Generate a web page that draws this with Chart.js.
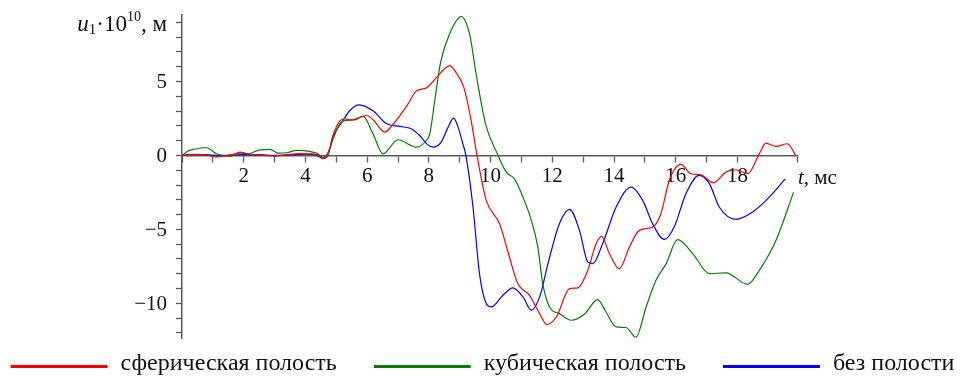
<!DOCTYPE html>
<html>
<head>
<meta charset="utf-8">
<title>u1(t)</title>
<script src="https://cdn.jsdelivr.net/npm/chart.js@4"></script>
<style>
  html, body { margin: 0; padding: 0; background: #fff; }
  canvas { display: block; }
</style>
</head>
<body>
<canvas id="chart" width="961" height="376"></canvas>
<script>
// Series names
const seriesLabels = ['сферическая полость', 'кубическая полость', 'без полости'];

// Spherical cavity: time (ms) and displacement (x1e-10 m)
const tSpherical = [0, 0.4, 0.8, 1.1, 1.5, 1.9, 2.3, 2.7, 3.0, 3.4, 3.8, 4.2, 4.4, 4.57, 4.72, 4.9, 5.1, 5.27, 5.45, 5.6, 5.98, 6.2, 6.57, 6.8, 7.06, 7.3, 7.59, 7.92, 8.24, 8.5, 8.67, 8.85, 9.13, 9.37, 9.56, 9.86, 10.29, 10.61, 10.88, 11.26, 11.59, 11.82, 12.13, 12.56, 12.83, 13.15, 13.42, 13.6, 13.85, 14.17, 14.5, 14.82, 15.25, 15.52, 15.79, 16.17, 16.49, 16.82, 17.22, 17.63, 17.95, 18.33, 18.71, 18.92, 19.25, 19.62, 19.89];
const uSpherical = [0, 0.05, 0.02, -0.1, 0.0, 0.15, 0.05, 0.0, -0.05, 0.05, 0.12, 0.1, 0.05, -0.18, 0.0, 1.4, 2.3, 2.48, 2.4, 2.45, 2.7, 2.4, 1.58, 2.0, 2.7, 3.4, 4.35, 4.57, 5.25, 5.85, 6.08, 5.7, 4.62, 2.36, 0.0, -3.04, -4.62, -6.87, -8.67, -9.46, -10.7, -11.44, -10.93, -9.01, -8.96, -7.77, -5.97, -5.47, -6.64, -7.66, -6.19, -5.07, -4.84, -3.94, -1.69, -0.61, -1.24, -1.31, -1.85, -1.13, -0.97, -1.24, 0.11, 0.83, 0.61, 0.79, 0.0];

// Cubic cavity
const tCubic = [0, 0.2, 0.4, 0.8, 1.12, 1.55, 1.88, 2.15, 2.52, 2.85, 3.12, 3.39, 3.71, 4.14, 4.41, 4.57, 4.74, 4.9, 5.1, 5.22, 5.6, 5.87, 6.19, 6.51, 7.0, 7.59, 7.92, 8.03, 8.19, 8.38, 8.67, 9.05, 9.32, 9.54, 9.84, 10.2, 10.51, 10.78, 11.05, 11.32, 11.53, 11.69, 11.91, 12.23, 12.61, 13.04, 13.47, 13.74, 14.07, 14.39, 14.71, 15.04, 15.36, 15.69, 16.06, 16.55, 17.09, 17.63, 18.33, 18.71, 19.25, 19.82];
const uCubic = [0, 0.3, 0.42, 0.52, 0.11, -0.07, 0.23, 0.11, 0.38, 0.41, 0.16, 0.18, 0.34, 0.27, 0.11, -0.14, 0.23, 1.13, 2.1, 2.32, 2.41, 2.64, 1.46, 0.11, 1.06, 0.56, 1.01, 1.46, 3.7, 6.3, 8.22, 9.39, 8.2, 5.4, 2.1, 0.2, -1.13, -1.6, -2.82, -4.39, -6.19, -8.67, -10.25, -10.7, -11.15, -10.74, -9.75, -10.59, -11.6, -11.64, -12.3, -10.25, -8.45, -7.32, -5.7, -6.64, -7.99, -7.95, -8.72, -7.77, -5.74, -2.48];

// No cavity
const tNone = [0, 0.4, 0.8, 1.2, 1.6, 2.0, 2.5, 3.0, 3.5, 4.0, 4.3, 4.57, 4.72, 4.9, 5.22, 5.44, 5.74, 6.2, 6.62, 7.06, 7.43, 7.7, 7.95, 8.13, 8.4, 8.62, 8.8, 8.95, 9.1, 9.2, 9.43, 9.64, 9.86, 10.02, 10.4, 10.72, 11.05, 11.32, 11.59, 11.86, 12.23, 12.56, 12.88, 13.15, 13.31, 13.63, 14.07, 14.55, 14.93, 15.25, 15.63, 15.95, 16.33, 16.76, 17.09, 17.41, 17.95, 18.49, 19.03, 19.55];
const uNone = [0, 0.08, 0.05, 0.0, 0.02, 0.06, 0.05, 0.0, 0.04, 0.08, 0.06, -0.2, 0.0, 1.3, 2.36, 3.04, 3.42, 3.0, 2.16, 1.96, 1.8, 1.35, 0.75, 0.56, 0.9, 1.9, 2.52, 1.9, 0.8, 0.0, -3.49, -7.99, -10.02, -10.25, -9.46, -8.96, -9.57, -10.47, -9.57, -7.32, -4.62, -3.65, -5.07, -7.21, -7.32, -5.97, -3.49, -2.14, -3.04, -4.62, -5.68, -4.84, -2.59, -1.35, -1.91, -3.49, -4.32, -3.83, -2.82, -1.58];

// Labelled ticks
const xTickLabels = [2, 4, 6, 8, 10, 12, 14, 16, 18];
const yTickLabels = [-10, -5, 0, 5];

const seriesColors = ['#ff0000', '#008000', '#0000ff'];
const AXIS_COLOR = '#5a5a5a';
const TEXT_COLOR = '#111';
const SERIF = '"Liberation Serif", "Times New Roman", serif';

const toPoints = (ts, us) => ts.map((t, i) => ({ x: t, y: us[i] }));
const fmtNum = v => (v < 0 ? '\u2212' + Math.abs(v) : String(v));

// Value labels left of the vertical axis, plus both axis titles
const axisText = {
  id: 'axisText',
  afterDraw(chart) {
    const ctx = chart.ctx;
    const xs = chart.scales.x, ys = chart.scales.y;
    const x0 = xs.getPixelForValue(0);
    const y0 = ys.getPixelForValue(0);
    ctx.save();
    ctx.fillStyle = TEXT_COLOR;

    ctx.font = '21px ' + SERIF;
    ctx.textAlign = 'right';
    ctx.textBaseline = 'middle';
    yTickLabels.forEach(v => ctx.fillText(fmtNum(v), x0 - 15, ys.getPixelForValue(v) + 1));

    ctx.textAlign = 'left';
    ctx.textBaseline = 'alphabetic';
    const parts = [
      { s: 'u', f: 'italic 23px ' + SERIF, dy: 0 },
      { s: '1', f: '15px ' + SERIF, dy: 3 },
      { s: '\u00b710', f: '23px ' + SERIF, dy: 0 },
      { s: '10', f: '14px ' + SERIF, dy: -10 },
      { s: ', м', f: '23px ' + SERIF, dy: 0 }
    ];
    let total = 0;
    parts.forEach(p => { ctx.font = p.f; p.w = ctx.measureText(p.s).width; total += p.w; });
    let x = x0 - 15 - total;
    const base = ys.top + 16;
    parts.forEach(p => { ctx.font = p.f; ctx.fillText(p.s, x, base + p.dy); x += p.w; });

    // time axis title at the right end of the x axis
    let tx = xs.right + 1;
    const tb = y0 + 29;
    ctx.font = 'italic 21px ' + SERIF;
    ctx.fillText('t', tx, tb);
    tx += ctx.measureText('t').width;
    ctx.font = '21px ' + SERIF;
    ctx.fillText(', мс', tx, tb);
    ctx.restore();
  }
};

// Legend row under the plot: long line sample followed by the series name
const lineLegend = {
  id: 'lineLegend',
  afterDraw(chart) {
    const ctx = chart.ctx;
    const sample = 97, gapText = 13, gapItem = 37;
    ctx.save();
    ctx.font = '24px ' + SERIF;
    const items = chart.data.datasets.map(ds => ({ label: ds.label, color: ds.borderColor, w: ctx.measureText(ds.label).width }));
    const total = items.reduce((s, it) => s + sample + gapText + it.w, 0) + gapItem * (items.length - 1);
    let x = (chart.width - total) / 2 + 2;
    const y = 366.5;
    items.forEach(it => {
      ctx.strokeStyle = it.color;
      ctx.lineWidth = 3;
      ctx.beginPath();
      ctx.moveTo(x, y);
      ctx.lineTo(x + sample, y);
      ctx.stroke();
      x += sample + gapText;
      ctx.fillStyle = TEXT_COLOR;
      ctx.textBaseline = 'middle';
      ctx.fillText(it.label, x, y - 3);
      x += it.w + gapItem;
    });
    ctx.restore();
  }
};

new Chart(document.getElementById('chart'), {
  type: 'line',
  data: {
    datasets: [
      { label: seriesLabels[0], data: toPoints(tSpherical, uSpherical), borderColor: seriesColors[0] },
      { label: seriesLabels[1], data: toPoints(tCubic, uCubic), borderColor: seriesColors[1] },
      { label: seriesLabels[2], data: toPoints(tNone, uNone), borderColor: seriesColors[2] }
    ]
  },
  options: {
    responsive: false,
    animation: false,
    devicePixelRatio: 1,
    layout: { padding: { left: 182, right: 164, top: 15, bottom: 38 } },
    elements: {
      point: { radius: 0 },
      line: { borderWidth: 1.2, cubicInterpolationMode: 'monotone', fill: false }
    },
    plugins: { legend: { display: false }, tooltip: { enabled: false } },
    scales: {
      x: {
        type: 'linear',
        position: { y: 0 },
        min: 0,
        max: 19.93,
        border: { display: true, color: AXIS_COLOR, width: 1.5 },
        grid: { drawOnChartArea: false, drawTicks: true, tickLength: 6, color: AXIS_COLOR, tickWidth: 1.3 },
        ticks: {
          stepSize: 1,
          autoSkip: false,
          maxRotation: 0,
          padding: 2,
          color: TEXT_COLOR,
          font: { family: SERIF, size: 21 },
          callback: v => (xTickLabels.includes(v) ? fmtNum(v) : '')
        }
      },
      y: {
        type: 'linear',
        position: { x: 0 },
        min: -12.35,
        max: 9.5,
        border: { display: true, color: AXIS_COLOR, width: 1.5 },
        grid: { drawOnChartArea: false, drawTicks: true, tickLength: 5, color: AXIS_COLOR, tickWidth: 1.3 },
        ticks: {
          display: false,
          stepSize: 1,
          includeBounds: false,
          autoSkip: false,
          padding: 0
        }
      }
    }
  },
  plugins: [axisText, lineLegend]
});
</script>
</body>
</html>
